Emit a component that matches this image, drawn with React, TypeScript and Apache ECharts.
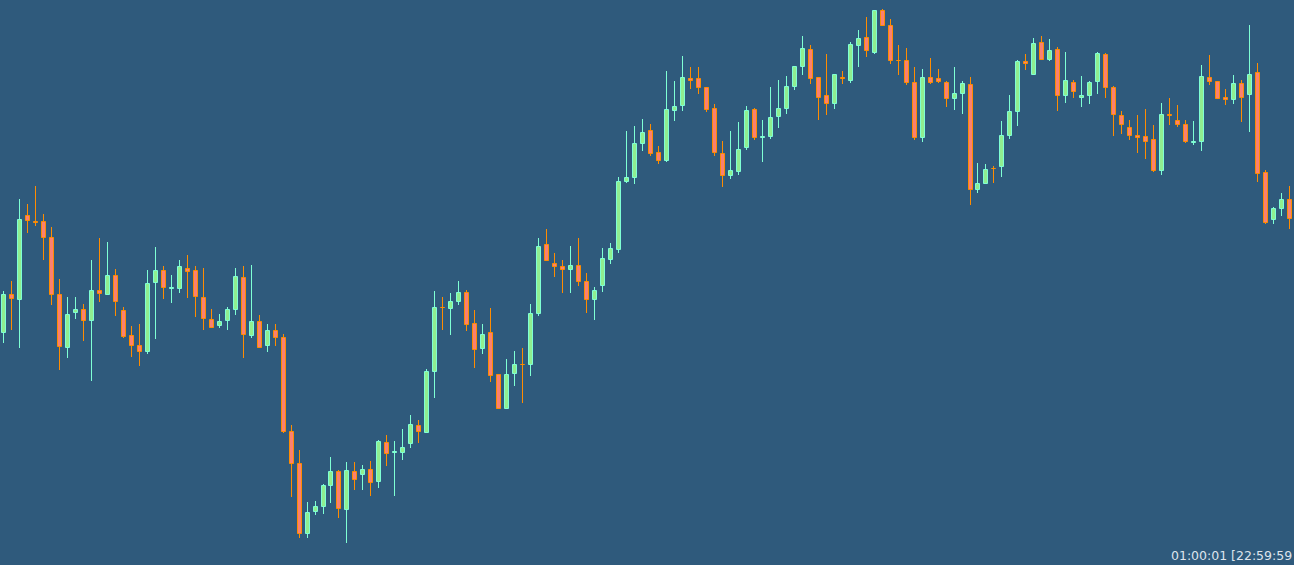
import React, { useEffect, useRef } from "react";
import * as echarts from "echarts";

// Candle values (price units)
const opens = [
  232, 271, 265, 350, 344, 344, 328, 271, 217, 252, 256, 244, 275, 270, 290, 255, 230, 220, 213, 282,
  295, 276, 276, 297, 295, 268, 246, 239, 244, 255, 288, 229, 244, 219, 235, 228, 134, 102, 31, 53,
  58, 79, 94, 55, 94, 90, 96, 83, 123, 112, 112, 121, 140, 132, 193, 258, 256, 263, 273, 242,
  216, 233, 191, 156, 191, 201, 200, 251, 321, 302, 299, 295, 300, 284, 265, 279, 305, 315, 383, 387,
  421, 435, 413, 404, 454, 459, 487, 487, 478, 457, 412, 389, 393, 417, 456, 427, 428, 448, 456, 478,
  498, 516, 488, 470, 461, 488, 484, 519, 528, 512, 555, 540, 505, 505, 483, 427, 488, 487, 483, 466,
  471, 481, 375, 381, 397, 398, 429, 453, 504, 490, 523, 505, 516, 469, 483, 467, 469, 483, 511, 478,
  450, 438, 430, 429, 426, 394, 451, 445, 441, 422, 423, 488, 484, 468, 465, 482, 470, 493, 393, 345,
  356, 366,
];
const closes = [
  271, 266, 346, 344, 342, 327, 270, 218, 251, 256, 244, 275, 271, 290, 263, 228, 219, 213, 282, 295,
  277, 278, 299, 293, 268, 246, 237, 244, 256, 289, 230, 244, 217, 235, 227, 133, 101, 31, 53, 59,
  80, 94, 56, 95, 85, 96, 82, 124, 111, 114, 118, 141, 133, 194, 258, 257, 264, 273, 240, 215,
  231, 189, 156, 191, 201, 200, 252, 319, 304, 298, 295, 300, 283, 265, 275, 307, 317, 384, 388, 422,
  433, 411, 404, 456, 459, 488, 484, 477, 455, 412, 389, 395, 416, 455, 427, 429, 448, 457, 479, 499,
  517, 486, 467, 461, 491, 486, 521, 527, 514, 555, 539, 504, 504, 482, 427, 488, 482, 483, 466, 472,
  482, 375, 382, 396, 396, 430, 454, 504, 501, 522, 505, 515, 469, 485, 473, 470, 483, 512, 477, 450,
  440, 429, 427, 423, 394, 451, 449, 440, 423, 424, 489, 483, 466, 465, 482, 467, 491, 391, 342, 357,
  366, 346,
];
const lows = [
  222, 235, 217, 332, 339, 305, 260, 195, 207, 246, 224, 184, 263, 270, 249, 227, 208, 199, 211, 226,
  266, 262, 272, 267, 248, 235, 237, 237, 235, 250, 207, 227, 217, 213, 219, 132, 68, 27, 27, 50,
  51, 62, 47, 22, 75, 75, 69, 77, 99, 69, 105, 117, 122, 132, 167, 235, 230, 260, 234, 197,
  211, 183, 156, 156, 179, 162, 189, 249, 304, 288, 272, 272, 279, 252, 245, 273, 301, 312, 382, 381,
  414, 409, 401, 403, 444, 454, 476, 471, 453, 409, 378, 386, 390, 415, 425, 403, 426, 437, 451, 475,
  490, 481, 445, 450, 456, 481, 482, 498, 508, 511, 539, 501, 490, 480, 425, 423, 481, 482, 458, 455,
  451, 360, 372, 381, 382, 388, 426, 439, 495, 490, 505, 504, 454, 462, 467, 458, 461, 471, 467, 429,
  431, 425, 412, 406, 393, 390, 440, 438, 422, 420, 414, 480, 466, 460, 461, 443, 433, 383, 341, 341,
  349, 336,
];
const highs = [
  274, 284, 366, 361, 379, 351, 338, 286, 268, 268, 261, 305, 327, 323, 296, 258, 239, 241, 295, 318,
  299, 290, 305, 310, 299, 297, 256, 251, 258, 297, 299, 300, 250, 241, 241, 231, 140, 115, 63, 64,
  81, 108, 95, 103, 103, 100, 104, 125, 130, 124, 136, 150, 145, 196, 274, 268, 272, 284, 275, 255,
  241, 257, 191, 206, 214, 217, 261, 327, 336, 312, 305, 319, 327, 292, 278, 317, 322, 388, 434, 439,
  446, 441, 419, 494, 484, 509, 498, 498, 478, 461, 424, 434, 443, 459, 457, 445, 478, 485, 489, 499,
  529, 520, 488, 511, 491, 494, 523, 535, 548, 555, 556, 546, 520, 517, 498, 496, 507, 496, 484, 498,
  484, 488, 402, 401, 399, 444, 470, 505, 511, 527, 529, 526, 518, 513, 485, 489, 484, 513, 512, 479,
  454, 445, 450, 456, 440, 462, 467, 460, 445, 444, 500, 510, 484, 476, 490, 485, 540, 502, 395, 358,
  372, 379,
];
const categories = opens.map((_, i) => String(i + 1));
const clockText = "01:00:01 [22:59:59";

const UP_FILL = "#90EE90";
const UP_LINE = "#7FFFD4";
const DOWN_FILL = "#FA8072";
const DOWN_LINE = "#FF8C00";

export default function App() {
  const ref = useRef<HTMLDivElement>(null);
  useEffect(() => {
    if (!ref.current) return;
    const chart = echarts.init(ref.current, undefined, { renderer: "svg" });
    const data = opens.map((o, i) => [i, o, closes[i], lows[i], highs[i]]);
    const crisp = (v: number) => Math.floor(v) + 0.5;
    chart.setOption({
      animation: false,
      backgroundColor: "#2F5A7C",
      grid: { left: 0, width: 1296, top: 0, height: 565 },
      xAxis: { type: "category", data: categories, boundaryGap: true, show: false },
      yAxis: { type: "value", min: 0, max: 565, show: false },
      series: [
        {
          type: "custom",
          data,
          encode: { x: 0, y: [1, 2, 3, 4] },
          clip: false,
          renderItem: (params: any, api: any) => {
            const idx = api.value(0);
            const o = api.value(1);
            const c = api.value(2);
            const l = api.value(3);
            const h = api.value(4);
            const pO = api.coord([idx, o]);
            const pC = api.coord([idx, c]);
            const pL = api.coord([idx, l]);
            const pH = api.coord([idx, h]);
            const up = c >= o;
            const fill = up ? UP_FILL : DOWN_FILL;
            const line = up ? UP_LINE : DOWN_LINE;
            const cx = Math.floor(pO[0] - 0.5) + 0.5;
            const top = crisp(Math.min(pO[1], pC[1]));
            const bot = crisp(Math.max(pO[1], pC[1]) - 1);
            const yHigh = Math.round(pH[1]);
            const yLow = Math.round(pL[1]);
            return {
              type: "group",
              children: [
                {
                  type: "line",
                  shape: { x1: cx, y1: yHigh, x2: cx, y2: top },
                  style: { stroke: line, lineWidth: 1 },
                },
                {
                  type: "line",
                  shape: { x1: cx, y1: bot, x2: cx, y2: yLow },
                  style: { stroke: line, lineWidth: 1 },
                },
                {
                  type: "rect",
                  shape: { x: cx - 2, y: top, width: 4, height: Math.max(bot - top, 0) },
                  style: { fill, stroke: line, lineWidth: 1 },
                },
              ],
            };
          },
        },
      ],
      graphic: [
        {
          type: "text",
          left: 1171,
          top: 549,
          style: { text: clockText, fill: "#DDE4EC", font: '12.5px "DejaVu Sans"' },
        },
      ],
    });
    return () => chart.dispose();
  }, []);
  return (
    <div ref={ref} style={{ position: "fixed", left: 0, top: 0, width: 1294, height: 565 }} />
  );
}
